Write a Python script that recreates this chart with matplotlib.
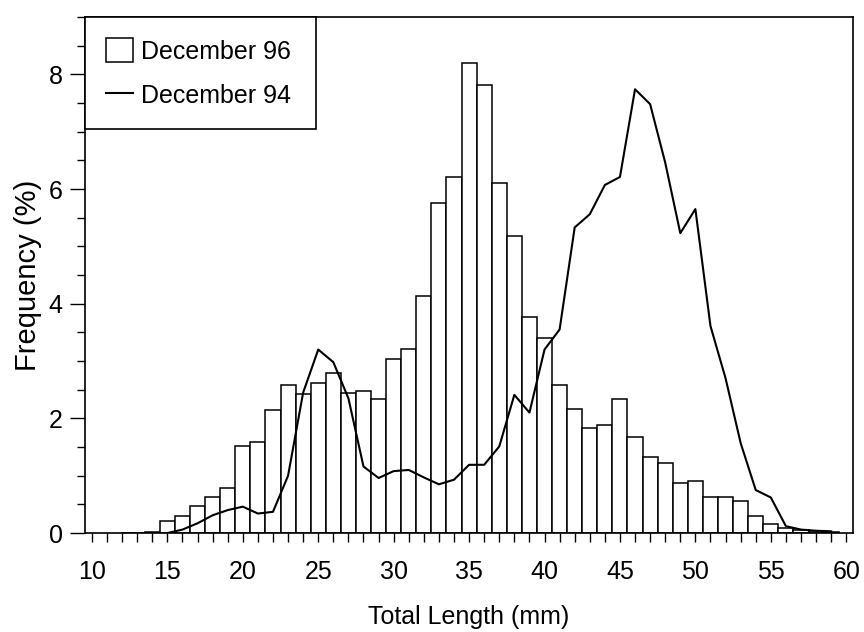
import numpy as np
from matplotlib import pyplot as plt
from matplotlib.ticker import MultipleLocator

plt.rcParams['font.family'] = ['Liberation Sans', 'DejaVu Sans']

# total length classes (mm) and frequency (%) for each sample
length_96 = [14, 15, 16, 17, 18, 19, 20, 21, 22, 23, 24, 25, 26, 27, 28, 29,
             30, 31, 32, 33, 34, 35, 36, 37, 38, 39, 40, 41, 42, 43, 44, 45,
             46, 47, 48, 49, 50, 51, 52, 53, 54, 55, 56, 57, 58, 59]
freq_96 = [0.02, 0.21, 0.30, 0.48, 0.62, 0.78, 1.52, 1.58, 2.15, 2.59, 2.43, 2.62,
           2.79, 2.45, 2.48, 2.34, 3.04, 3.21, 4.14, 5.75, 6.21, 8.20, 7.81, 6.11,
           5.18, 3.77, 3.41, 2.58, 2.16, 1.84, 1.89, 2.33, 1.67, 1.32, 1.22, 0.87,
           0.90, 0.62, 0.62, 0.55, 0.30, 0.16, 0.08, 0.05, 0.03, 0.02]

length_94 = [12, 13, 14, 15, 16, 17, 18, 19, 20, 21, 22, 23, 24, 25, 26, 27,
             28, 29, 30, 31, 32, 33, 34, 35, 36, 37, 38, 39, 40, 41, 42, 43,
             44, 45, 46, 47, 48, 49, 50, 51, 52, 53, 54, 55, 56, 57, 58, 59]
freq_94 = [0.0, 0.0, 0.0, 0.0, 0.06, 0.17, 0.31, 0.40, 0.46, 0.34, 0.37, 1.00,
           2.45, 3.20, 2.98, 2.35, 1.16, 0.96, 1.08, 1.10, 0.97, 0.85, 0.93, 1.19,
           1.19, 1.51, 2.41, 2.10, 3.20, 3.55, 5.33, 5.56, 6.07, 6.21, 7.74, 7.48,
           6.46, 5.23, 5.65, 3.61, 2.70, 1.57, 0.75, 0.62, 0.12, 0.06, 0.04, 0.03]

fs = 18

fig = plt.figure(figsize=(8.64, 6.32), dpi=100)
ax = fig.add_axes([0.0984, 0.1566, 0.8889, 0.8165])

bars = ax.bar(length_96, freq_96, width=1.0, color='white', edgecolor='black',
              linewidth=1.1, label='December 96', zorder=2)
line, = ax.plot(length_94, freq_94, color='black', lw=1.5, label='December 94', zorder=3)

ax.set_xlim(9.54, 60.45)
ax.set_ylim(0, 9)

ax.xaxis.set_major_locator(MultipleLocator(5))
ax.xaxis.set_minor_locator(MultipleLocator(1))
ax.yaxis.set_major_locator(MultipleLocator(2))
ax.yaxis.set_minor_locator(MultipleLocator(0.5))

ax.tick_params(axis='x', which='both', direction='out', length=6.5, width=1.0,
               labelsize=fs, pad=13)
ax.tick_params(axis='y', which='major', direction='out', length=11, width=1.0,
               labelsize=fs, pad=5)
ax.tick_params(axis='y', which='minor', direction='out', length=6, width=1.0)

for s in ax.spines.values():
    s.set_linewidth(1.2)

ax.set_xlabel('Total Length (mm)', fontsize=fs, labelpad=15)
ax.set_ylabel('Frequency (%)', fontsize=21, labelpad=5)

lgd = ax.legend([bars, line], ['December 96', 'December 94'],
                loc='upper left', bbox_to_anchor=(0, 0.78, 0.3008, 0.22),
                mode='expand', borderaxespad=0, fontsize=fs, fancybox=False,
                framealpha=1, edgecolor='black', handlelength=1.05,
                handleheight=1.1, handletextpad=0.35, labelspacing=0.75,
                borderpad=0.85)
lgd.get_frame().set_linewidth(1.2)

plt.savefig('out.png', dpi=100)
